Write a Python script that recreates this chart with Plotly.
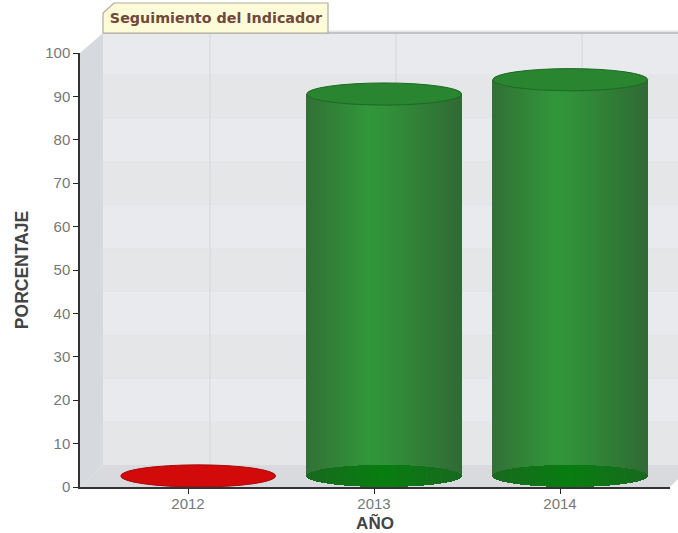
import math
import plotly.graph_objects as go

# ---- data ----
years = ["2012", "2013", "2014"]
percent = [0, 88, 91.3]
bar_colours = ["red", "green", "green"]
y_ticks = [0, 10, 20, 30, 40, 50, 60, 70, 80, 90, 100]
title_text = "Seguimiento del Indicador"
x_title = "AÑO"
y_title = "PORCENTAJE"

# ---- layout / style ----
W, H = 678, 533
L, R, T, B = 80, 670, 53, 487
FONT = "Liberation Sans, Arial, sans-serif"
X_RANGE = [(L - 188) / 186, (R - 188) / 186]
DEPTH_X, DEPTH_Y = 23, 22          # 3-D wall offset, pixels
BAR_SHIFT = 0.055                  # cylinders sit half way into the depth
BAR_WIDTH = 0.833
FLOOR = 2.55                       # cylinder base centre, axis units
RY = 2.55                          # ellipse half height, axis units
N = 155


def px(v):
    return (v - L) / (R - L)


def py(v):
    return (B - v) / (B - T)


def poly(points, fill, line=None, lw=0):
    path = "M " + " L ".join(f"{px(a):.5f},{py(b):.5f}" for a, b in points) + " Z"
    return dict(type="path", xref="paper", yref="paper", path=path, fillcolor=fill,
                line=dict(color=line or fill, width=lw), layer="below")


def mix(stops, t):
    for (t0, c0), (t1, c1) in zip(stops, stops[1:]):
        if t <= t1:
            f = (t - t0) / (t1 - t0)
            return "rgb(%d,%d,%d)" % tuple(round(a + (b - a) * f) for a, b in zip(c0, c1))
    return "rgb(%d,%d,%d)" % stops[-1][1]


BODY = [(0, (50, 112, 54)), (0.40, (49, 150, 58)), (0.50, (49, 146, 57)), (1, (48, 106, 52))]
BASE = [(0, (24, 105, 30)), (0.5, (8, 125, 16)), (1, (24, 105, 30))]

shapes = []
# back wall bands
shapes.append(poly([(L + DEPTH_X, T - 20), (700, T - 20), (700, B - DEPTH_Y), (L + DEPTH_X, B - DEPTH_Y)], "#e8eaed"))
for i, v in enumerate(y_ticks[:-1]):
    y0 = B - DEPTH_Y - v * 4.34
    y1 = y0 - 43.4
    col = "#e8eaed" if i % 2 else "#e5e6e8"
    shapes.append(poly([(L + DEPTH_X, y0), (700, y0), (700, y1), (L + DEPTH_X, y1)], col))
    shapes.append(dict(type="line", xref="paper", yref="paper", x0=px(L + DEPTH_X), x1=px(700),
                       y0=py(y1), y1=py(y1), line=dict(color="#e0e2e5", width=1), layer="below"))
# vertical grid on the back wall
for i in range(len(years)):
    xp = 187 + 186 * i + DEPTH_X
    shapes.append(dict(type="line", xref="paper", yref="paper", x0=px(xp), x1=px(xp),
                       y0=py(B - DEPTH_Y), y1=py(T - 20), line=dict(color="#d3d6da", width=1), layer="below"))
# side wall and floor
shapes.append(poly([(L, B), (L + DEPTH_X, B - DEPTH_Y), (L + DEPTH_X, T - 20), (L, T)], "#d6d9dd"))
shapes.append(poly([(L, B), (L + DEPTH_X, B - DEPTH_Y), (R + DEPTH_X, B - DEPTH_Y), (R, B)], "#d8dade"))
# top edge of the wall
shapes.append(dict(type="line", xref="paper", yref="paper", x0=px(L + DEPTH_X), x1=px(700),
                   y0=py(T - 20), y1=py(T - 20), line=dict(color="#b4b6b8", width=1.5), layer="below"))
# title tab
shapes.append(poly([(103, 33), (103, 13), (114, 3), (328, 3), (328, 33)], "#fdfbd8", "#aeae9e", 1.2))

fig = go.Figure()

# cylinder bodies and bases as thin vertical strips, driven by the values
step = BAR_WIDTH / N
for k in range(N):
    t = (k + 0.5) / N
    off = BAR_SHIFT - BAR_WIDTH / 2 + k * step
    fig.add_trace(go.Bar(
        x=years, y=percent, base=[FLOOR] * len(years), width=step * 1.3, offset=off,
        marker=dict(color=mix(BODY, t), line=dict(width=0)),
        hoverinfo="skip", showlegend=False))
for k in range(N):
    t = (k + 0.5) / N
    u = 2 * t - 1
    arc = RY * math.sqrt(1 - u * u)
    off = BAR_SHIFT - BAR_WIDTH / 2 + k * step
    idx = [i for i, c in enumerate(bar_colours) if c == "green"]
    fig.add_trace(go.Bar(
        x=[years[i] for i in idx], y=[2 * arc] * len(idx), base=[FLOOR - arc] * len(idx),
        width=step * 1.3, offset=off,
        marker=dict(color=mix(BASE, t), line=dict(width=0)),
        hoverinfo="skip", showlegend=False))

# top caps
for i, (v, c) in enumerate(zip(percent, bar_colours)):
    cx = i + BAR_SHIFT
    fill, edge = ("#d20a0a", "#a80c0c") if c == "red" else ("#2a8531", "#1b6a22")
    shapes.append(dict(type="circle", xref="x", yref="y", layer="above",
                       x0=cx - BAR_WIDTH / 2, x1=cx + BAR_WIDTH / 2,
                       y0=v + FLOOR - RY, y1=v + FLOOR + RY,
                       fillcolor=fill, line=dict(color=edge, width=1)))

fig.update_layout(
    width=W, height=H, autosize=False,
    barmode="overlay", bargap=0,
    margin=dict(l=L, r=W - R, t=T, b=H - B, pad=0, autoexpand=False),
    paper_bgcolor="white", plot_bgcolor="rgba(0,0,0,0)",
    font=dict(family=FONT, size=12, color="#777777"),
    shapes=shapes,
    title=dict(text=f"<b>{title_text}</b>", x=216 / W, y=1 - 18 / H, xref="container", yref="container",
               xanchor="center", yanchor="middle", automargin=False,
               font=dict(family="DejaVu Sans, Verdana, sans-serif", size=14.3, color="#6e4a3a")),
    xaxis=dict(type="category", categoryorder="array", categoryarray=years, range=X_RANGE,
               automargin=False, ticklabelstandoff=-3,
               showgrid=False, zeroline=False, showline=True, linecolor="#333333", linewidth=1.5,
               ticks="outside", ticklen=5, tickwidth=1, tickcolor="#222222",
               tickfont=dict(family=FONT, size=15, color="#777777"),
               title=dict(text=f"<b>{x_title}</b>", standoff=7, font=dict(family=FONT, size=17, color="#444444"))),
    yaxis=dict(range=[0, 100], tickvals=y_ticks, showgrid=False, zeroline=False,
               automargin=False,
               showline=True, linecolor="#333333", linewidth=1.5,
               ticks="outside", ticklen=5, tickwidth=1, tickcolor="#222222",
               tickfont=dict(family=FONT, size=15, color="#777777"),
               title=dict(text=f"<b>{y_title}</b>", standoff=12, font=dict(family=FONT, size=17.5, color="#444444"))),
)

fig.write_html("out.html", config={"displayModeBar": False},
               post_script="document.body.style.margin='0';document.documentElement.style.overflow='hidden';")
